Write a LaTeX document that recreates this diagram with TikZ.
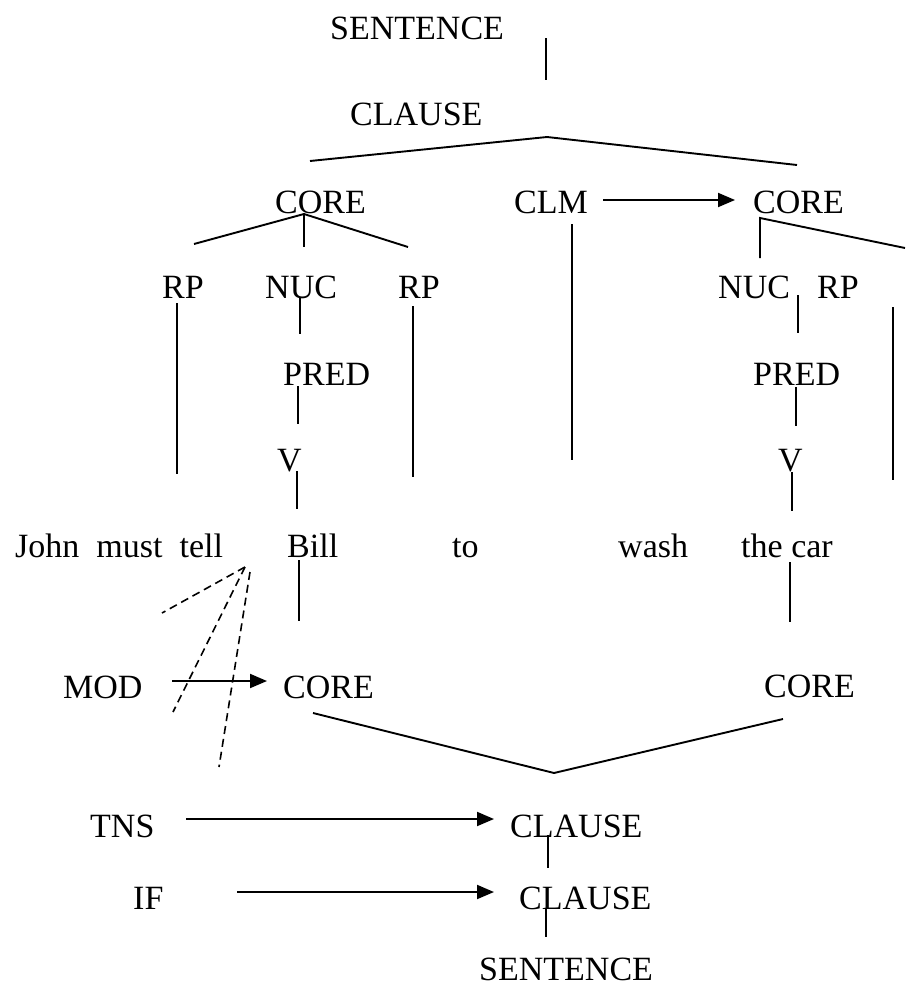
\documentclass[tikz,border=0pt]{standalone}
\usepackage{fontspec}
\setmainfont{Liberation Serif}
\usetikzlibrary{arrows.meta}
\begin{document}
\begin{tikzpicture}[x=1pt,y=-1pt,
  lbl/.style={anchor=base west,inner sep=0pt,font=\fontsize{34}{40}\selectfont},
  ln/.style={line width=1.9pt},
  dsh/.style={line width=1.6pt,dash pattern=on 8pt off 5pt},
  arr/.style={line width=1.9pt,-{Triangle[length=17pt,width=14pt]}}]
\useasboundingbox (0,0) rectangle (905,985);
% labels
\node[lbl] (s1) at (330,39) {SENTENCE};
\node[lbl] (c1) at (350,125) {CLAUSE};
\node[lbl] (coreL) at (275,213) {CORE};
\node[lbl] (clm) at (514,213) {CLM};
\node[lbl] (coreR) at (753,213) {CORE};
\node[lbl] (rp1) at (162,298) {RP};
\node[lbl] (nuc1) at (265,298) {NUC};
\node[lbl] (rp2) at (398,298) {RP};
\node[lbl] (nuc2) at (718,298) {NUC};
\node[lbl] (rp3) at (817,298) {RP};
\node[lbl] (pred1) at (283,385) {PRED};
\node[lbl] (pred2) at (753,385) {PRED};
\node[lbl] (v1) at (277,471) {V};
\node[lbl] (v2) at (778,471) {V};
\node[lbl] (john) at (15,557) {John~~must~~tell};
\node[lbl] (bill) at (287,557) {Bill};
\node[lbl] (to) at (452,557) {to};
\node[lbl] (wash) at (618,557) {wash};
\node[lbl] (car) at (741,557) {the car};
\node[lbl] (mod) at (63,698) {MOD};
\node[lbl] (core3) at (283,698) {CORE};
\node[lbl] (core4) at (764,697) {CORE};
\node[lbl] (tns) at (90,837) {TNS};
\node[lbl] (c3) at (510,837) {CLAUSE};
\node[lbl] (if) at (133,909) {IF};
\node[lbl] (c4) at (519,909) {CLAUSE};
\node[lbl] (s2) at (479,980) {SENTENCE};
% coordinates for free line ends
\coordinate (a1) at (546,38);   \coordinate (a2) at (546,80);
\coordinate (b1) at (310,161);  \coordinate (b2) at (547,137); \coordinate (b3) at (797,165);
\coordinate (d1) at (194,244);  \coordinate (d2) at (304,214); \coordinate (d3) at (408,247); \coordinate (d4) at (304,247);
\coordinate (e1) at (603,200);  \coordinate (e2) at (735,200);
\coordinate (f1) at (760,258);  \coordinate (f2) at (760,218); \coordinate (f3) at (905,248);
\coordinate (g1) at (572,224);  \coordinate (g2) at (572,460);
\coordinate (h1) at (177,303);  \coordinate (h2) at (177,474);
\coordinate (i1) at (300,298);  \coordinate (i2) at (300,334);
\coordinate (j1) at (413,306);  \coordinate (j2) at (413,477);
\coordinate (k1) at (798,295);  \coordinate (k2) at (798,333);
\coordinate (l1) at (893,307);  \coordinate (l2) at (893,480);
\coordinate (m1) at (298,386);  \coordinate (m2) at (298,424);
\coordinate (n1) at (796,387);  \coordinate (n2) at (796,426);
\coordinate (o1) at (297,471);  \coordinate (o2) at (297,509);
\coordinate (p1) at (792,472);  \coordinate (p2) at (792,511);
\coordinate (q1) at (299,560);  \coordinate (q2) at (299,621);
\coordinate (r1) at (790,562);  \coordinate (r2) at (790,622);
\coordinate (t0) at (245,567);  \coordinate (t0b) at (250,572);
\coordinate (t1) at (162,613);  \coordinate (t2) at (173,712); \coordinate (t3) at (219,767);
\coordinate (u1) at (172,681);  \coordinate (u2) at (267,681);
\coordinate (w1) at (313,713);  \coordinate (w2) at (554,773); \coordinate (w3) at (783,719);
\coordinate (x1) at (186,819);  \coordinate (x2) at (494,819);
\coordinate (y1) at (548,835);  \coordinate (y2) at (548,868);
\coordinate (z1) at (237,892);  \coordinate (z2) at (494,892);
\coordinate (zz1) at (546,908); \coordinate (zz2) at (546,937);
% lines
\draw[ln] (a1) -- (a2);
\draw[ln] (b1) -- (b2) -- (b3);
\draw[ln] (d1) -- (d2) -- (d3);
\draw[ln] (d2) -- (d4);
\draw[arr] (e1) -- (e2);
\draw[ln] (f1) -- (f2) -- (f3);
\draw[ln] (g1) -- (g2);
\draw[ln] (h1) -- (h2);
\draw[ln] (i1) -- (i2);
\draw[ln] (j1) -- (j2);
\draw[ln] (k1) -- (k2);
\draw[ln] (l1) -- (l2);
\draw[ln] (m1) -- (m2);
\draw[ln] (n1) -- (n2);
\draw[ln] (o1) -- (o2);
\draw[ln] (p1) -- (p2);
\draw[ln] (q1) -- (q2);
\draw[ln] (r1) -- (r2);
\draw[dsh] (t0) -- (t1);
\draw[dsh] (t0) -- (t2);
\draw[dsh] (t0b) -- (t3);
\draw[arr] (u1) -- (u2);
\draw[ln] (w1) -- (w2) -- (w3);
\draw[arr] (x1) -- (x2);
\draw[ln] (y1) -- (y2);
\draw[arr] (z1) -- (z2);
\draw[ln] (zz1) -- (zz2);
\end{tikzpicture}
\end{document}
